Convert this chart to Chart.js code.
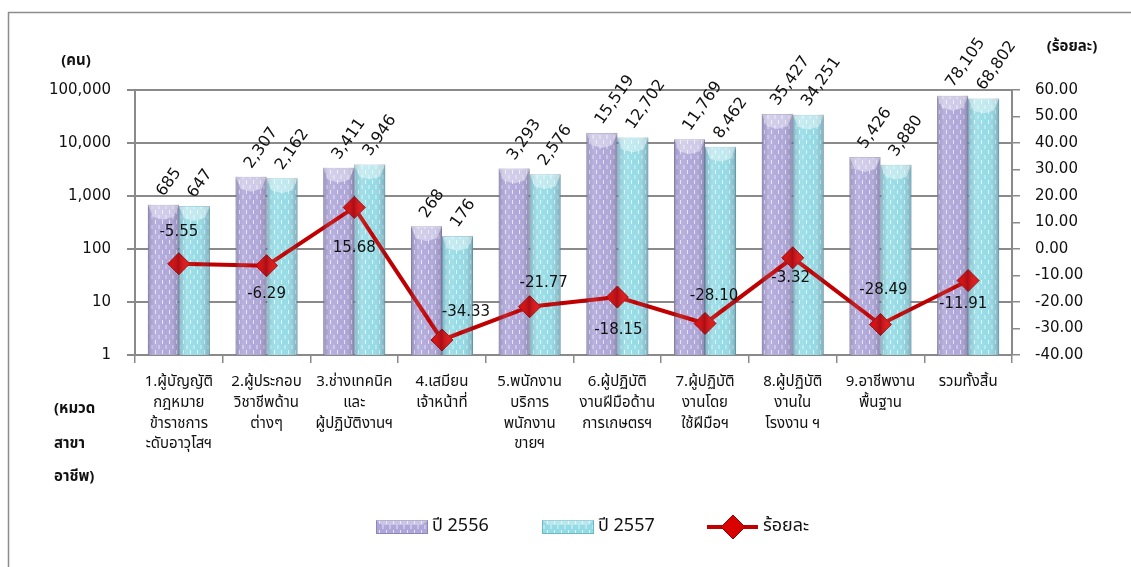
<!DOCTYPE html>
<html lang="th">
<head>
<meta charset="UTF-8">
<title>Employment chart</title>
<script src="https://cdn.jsdelivr.net/npm/chart.js"></script>
<style>
  html, body { margin: 0; padding: 0; background: #fff; overflow: hidden; }
  #wrap { width: 1131px; height: 567px; position: relative; }
</style>
</head>
<body>
<div id="wrap"><canvas id="chart"></canvas></div>
<script>
// data
const categories = [
  ['1.ผู้บัญญัติ', 'กฎหมาย', 'ข้าราชการ', 'ะดับอาวุโสฯ'],
  ['2.ผู้ประกอบ', 'วิชาชีพด้าน', 'ต่างๆ'],
  ['3.ช่างเทคนิค', 'และ', 'ผู้ปฏิบัติงานฯ'],
  ['4.เสมียน', 'เจ้าหน้าที่'],
  ['5.พนักงาน', 'บริการ', 'พนักงาน', 'ขายฯ'],
  ['6.ผู้ปฏิบัติ', 'งานฝีมือด้าน', 'การเกษตรฯ'],
  ['7.ผู้ปฏิบัติ', 'งานโดย', 'ใช้ฝีมือฯ'],
  ['8.ผู้ปฏิบัติ', 'งานใน', 'โรงงาน ฯ'],
  ['9.อาชีพงาน', 'พื้นฐาน'],
  ['รวมทั้งสิ้น']
];
const year2556 = [685, 2307, 3411, 268, 3293, 15519, 11769, 35427, 5426, 78105];
const year2557 = [647, 2162, 3946, 176, 2576, 12702, 8462, 34251, 3880, 68802];
const percentChange = [-5.55, -6.29, 15.68, -34.33, -21.77, -18.15, -28.10, -3.32, -28.49, -11.91];
const leftTicks = [1, 10, 100, 1000, 10000, 100000];
const seriesNames = ['ปี 2556', 'ปี 2557', 'ร้อยละ'];

// where each percent label sits relative to its point
const pctLabelOffsets = [[0, -32], [0, 28], [0, 41], [24, -28], [14, -24], [1, 33], [9, -27], [-2, 20], [3, -34], [-5, 24]];

const FONT = "'DejaVu Sans', Tahoma, sans-serif";
const THAI = "Tahoma, 'Noto Sans Thai', 'DejaVu Sans', sans-serif";

function makePattern(base, dash) {
  const c = document.createElement('canvas');
  c.width = 7; c.height = 10;
  const g = c.getContext('2d');
  g.fillStyle = base;
  g.fillRect(0, 0, 7, 10);
  g.fillStyle = dash;
  g.fillRect(1, 0, 1, 4);
  g.fillRect(4.5, 5, 1, 4);
  return g.createPattern(c, 'repeat');
}
const purpleFill = makePattern('#AFA7D9', 'rgba(238,236,250,0.85)');
const cyanFill = makePattern('#95DBE5', 'rgba(232,249,251,0.85)');

const fmt = v => v.toLocaleString('en-US');

// bevel look + rotated value labels on bars
const barDecor = {
  id: 'barDecor',
  afterDatasetsDraw(chart) {
    const ctx = chart.ctx;
    [0, 1].forEach(di => {
      const meta = chart.getDatasetMeta(di);
      meta.data.forEach((bar, i) => {
        const l = bar.x - bar.width / 2, r = bar.x + bar.width / 2;
        const top = bar.y, bot = bar.base;
        ctx.save();
        const gr = ctx.createLinearGradient(l, 0, r, 0);
        gr.addColorStop(0, 'rgba(60,60,90,0.25)');
        gr.addColorStop(0.25, 'rgba(255,255,255,0.12)');
        gr.addColorStop(0.6, 'rgba(255,255,255,0)');
        gr.addColorStop(1, 'rgba(40,40,70,0.28)');
        ctx.fillStyle = gr;
        ctx.fillRect(l, top, r - l, bot - top);
        const h = Math.min(12, (bot - top) / 2);
        ctx.beginPath();
        ctx.moveTo(l, top); ctx.lineTo(r, top);
        ctx.lineTo(r - 5, top + h); ctx.lineTo(bar.x, top + h + 3); ctx.lineTo(l + 5, top + h);
        ctx.closePath();
        ctx.fillStyle = 'rgba(255,255,255,0.4)';
        ctx.fill();
        ctx.restore();

        const val = chart.data.datasets[di].data[i];
        ctx.save();
        ctx.translate(bar.x - 3, top - 10);
        ctx.rotate(-55 * Math.PI / 180);
        ctx.font = '16px ' + FONT;
        ctx.fillStyle = '#111';
        ctx.textAlign = 'left';
        ctx.textBaseline = 'middle';
        ctx.fillText(fmt(val), 0, 0);
        ctx.restore();
      });
    });
    // percent labels
    const lm = chart.getDatasetMeta(2);
    ctx.save();
    ctx.font = '15px ' + FONT;
    ctx.fillStyle = '#111';
    ctx.textAlign = 'center';
    ctx.textBaseline = 'middle';
    lm.data.forEach((p, i) => {
      const o = pctLabelOffsets[i];
      ctx.fillText(percentChange[i].toFixed(2), p.x + o[0], p.y + o[1]);
    });
    ctx.restore();
  }
};

// frame, unit captions, legend
const extras = {
  id: 'extras',
  beforeDraw(chart) {
    const ctx = chart.ctx;
    ctx.save();
    ctx.strokeStyle = '#8c8c8c';
    ctx.lineWidth = 1.5;
    ctx.strokeRect(8.5, 12.5, 1300, 700);
    ctx.restore();
  },
  afterDraw(chart) {
    const ctx = chart.ctx;
    ctx.save();
    ctx.fillStyle = '#111';
    ctx.font = 'bold 15px ' + THAI;
    ctx.textBaseline = 'middle';
    ctx.textAlign = 'center';
    ctx.fillText('(คน)', 76, 62);
    ctx.fillText('(ร้อยละ)', 1072, 48);
    ctx.textAlign = 'left';
    ctx.fillText('(หมวด', 54, 410);
    ctx.fillText('สาขา', 54, 445);
    ctx.fillText('อาชีพ)', 54, 478);

    // legend
    const y = 527;
    const boxes = [[376, purpleFill, '#8E86B8'], [542, cyanFill, '#6BB9C5']];
    boxes.forEach((b, i) => {
      ctx.fillStyle = b[1];
      ctx.fillRect(b[0], y - 7, 52, 14);
      ctx.strokeStyle = b[2];
      ctx.lineWidth = 1;
      ctx.strokeRect(b[0] + 0.5, y - 6.5, 51, 13);
      ctx.fillStyle = 'rgba(255,255,255,0.35)';
      ctx.beginPath();
      ctx.moveTo(b[0], y - 7); ctx.lineTo(b[0] + 52, y - 7); ctx.lineTo(b[0] + 46, y - 2); ctx.lineTo(b[0] + 6, y - 2);
      ctx.closePath(); ctx.fill();
      ctx.fillStyle = '#111';
      ctx.font = '18px ' + THAI;
      ctx.fillText(seriesNames[i], b[0] + 56, y);
    });
    ctx.strokeStyle = '#C00000';
    ctx.lineWidth = 4;
    ctx.beginPath(); ctx.moveTo(707, y); ctx.lineTo(758, y); ctx.stroke();
    ctx.fillStyle = '#D90000';
    ctx.strokeStyle = '#9A0000';
    ctx.lineWidth = 1;
    ctx.beginPath();
    ctx.moveTo(733, y - 12); ctx.lineTo(745, y); ctx.lineTo(733, y + 12); ctx.lineTo(721, y); ctx.closePath();
    ctx.fill(); ctx.stroke();
    ctx.fillStyle = '#111';
    ctx.font = '18px ' + THAI;
    ctx.fillText(seriesNames[2], 763, y);
    ctx.restore();
  }
};

new Chart(document.getElementById('chart'), {
  data: {
    labels: categories,
    datasets: [
      { type: 'bar', label: seriesNames[0], data: year2556, yAxisID: 'y', order: 2,
        backgroundColor: purpleFill, borderColor: '#8E86B8', borderWidth: 1,
        categoryPercentage: 0.707, barPercentage: 1.0 },
      { type: 'bar', label: seriesNames[1], data: year2557, yAxisID: 'y', order: 2,
        backgroundColor: cyanFill, borderColor: '#6BB9C5', borderWidth: 1,
        categoryPercentage: 0.707, barPercentage: 1.0 },
      { type: 'line', label: seriesNames[2], data: percentChange, yAxisID: 'y1', order: 0,
        borderColor: '#C00000', borderWidth: 4, tension: 0,
        pointStyle: 'rectRot', pointRadius: 11, pointHoverRadius: 11,
        pointBackgroundColor: '#D90000', pointBorderColor: '#9A0000', pointBorderWidth: 1 }
    ]
  },
  options: {
    responsive: true,
    maintainAspectRatio: false,
    animation: false,
    events: [],
    layout: { padding: { top: 90, left: 0, right: 0, bottom: 0 } },
    plugins: { legend: { display: false }, tooltip: { enabled: false } },
    scales: {
      x: {
        grid: { offset: true, drawOnChartArea: false, color: '#8a8a8a', lineWidth: 1.5, tickLength: 8 },
        border: { color: '#8a8a8a', width: 2 },
        ticks: { color: '#111', font: { family: THAI, size: 15, lineHeight: 1.38 }, maxRotation: 0, autoSkip: false, padding: 10 },
        afterFit: s => { s.height = 212; }
      },
      y: {
        type: 'logarithmic', position: 'left', min: 1, max: 100000,
        afterBuildTicks: s => { s.ticks = leftTicks.map(v => ({ value: v })); },
        grid: { color: '#8a8a8a', lineWidth: 2, tickLength: 8 },
        border: { color: '#8a8a8a', width: 2 },
        ticks: { color: '#111', font: { family: FONT, size: 15 }, padding: 16, callback: v => fmt(v) },
        afterFit: s => { s.width = 135; }
      },
      y1: {
        type: 'linear', position: 'right', min: -40, max: 60,
        grid: { drawOnChartArea: false, color: '#8a8a8a', lineWidth: 1.5, tickLength: 8 },
        border: { color: '#8a8a8a', width: 2 },
        ticks: { stepSize: 10, color: '#111', font: { family: FONT, size: 15 }, padding: 15, callback: v => v.toFixed(2) },
        afterFit: s => { s.width = 119; }
      }
    }
  },
  plugins: [barDecor, extras]
});
</script>
</body>
</html>
